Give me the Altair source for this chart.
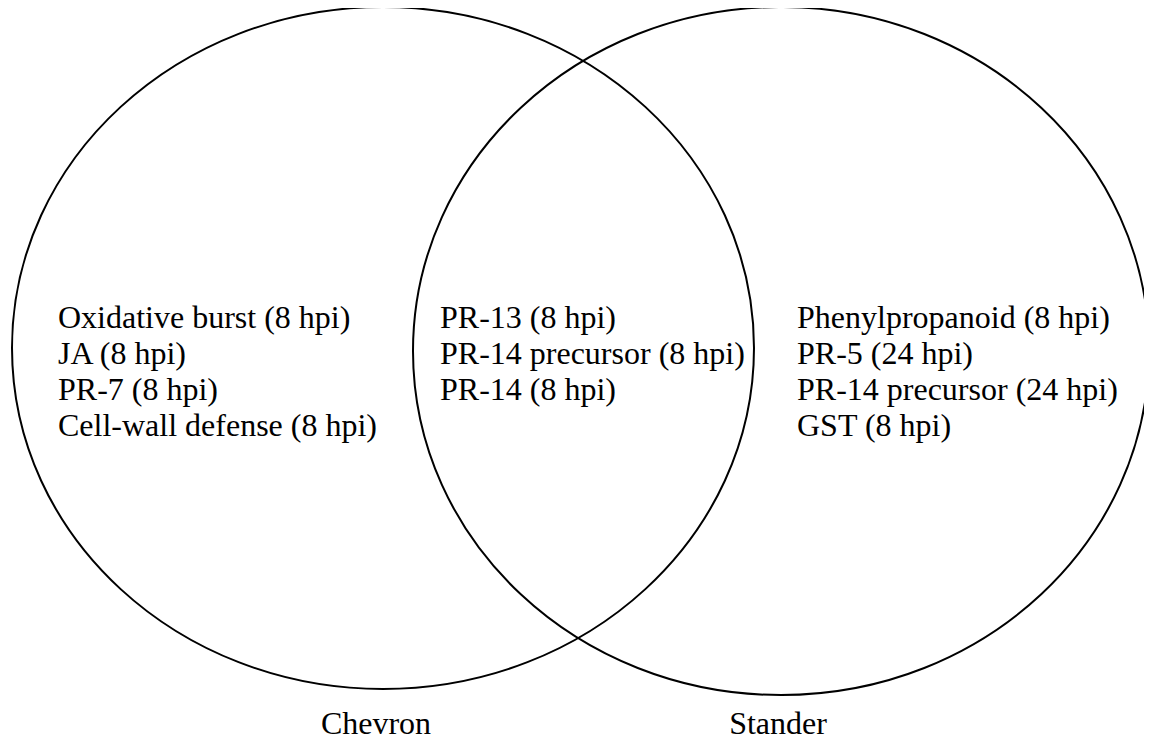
import altair as alt
import pandas as pd

# ---------------- data ----------------
SETS = ["Chevron", "Stander"]
CHEVRON_ONLY = ["Oxidative burst (8 hpi)", "JA (8 hpi)", "PR-7 (8 hpi)",
                "Cell-wall defense (8 hpi)"]
SHARED = ["PR-13 (8 hpi)", "PR-14 precursor (8 hpi)", "PR-14 (8 hpi)"]
STANDER_ONLY = ["Phenylpropanoid (8 hpi)", "PR-5 (24 hpi)",
                "PR-14 precursor (24 hpi)", "GST (8 hpi)"]
REGIONS = ["Chevron only", "Both", "Stander only"]
REGION_ITEMS = [CHEVRON_ONLY, SHARED, STANDER_ONLY]

# ---------------- layout (pixels in the plot area) ----------------
W, H = 1136, 734
ELLIPSE = {  # centre x, centre y, radius x, radius y
    "Chevron": (375, 340, 371, 341),
    "Stander": (773, 343, 368, 344),
}
REGION_X = {"Chevron only": 50, "Both": 432, "Stander only": 789}
LABEL_X = {"Chevron": 368, "Stander": 770}
TEXT_Y0, TEXT_DY = 320, 36
LABEL_Y = 726
FONT = "Times New Roman, Liberation Serif, serif"
FS = 32

xs = alt.Scale(domain=[0, W], range=[0, W])
ys = alt.Scale(domain=[0, H], range=[0, H])


def ellipse_layer(name):
    cx, cy, rx, ry = ELLIPSE[name]
    k = ry / rx
    path = f"M -1 0 A 1 {k:.4f} 0 1 1 1 0 A 1 {k:.4f} 0 1 1 -1 0 Z"
    df = pd.DataFrame({"set": [name], "cx": [cx], "cy": [cy]})
    return alt.Chart(df).mark_point(
        filled=False, stroke="black", strokeWidth=2, opacity=1, shape=path,
        size=(2 * rx) ** 2,
    ).encode(
        x=alt.X("cx:Q", scale=xs, axis=None),
        y=alt.Y("cy:Q", scale=ys, axis=None),
    )


rows = []
for reg, items in zip(REGIONS, REGION_ITEMS):
    for i, t in enumerate(items):
        rows.append({"region": reg, "text": t, "x": REGION_X[reg],
                     "y": TEXT_Y0 + i * TEXT_DY})
items_df = pd.DataFrame(rows)

items_layer = alt.Chart(items_df).mark_text(
    align="left", baseline="alphabetic", font=FONT, fontSize=FS, color="black"
).encode(
    x=alt.X("x:Q", scale=xs, axis=None),
    y=alt.Y("y:Q", scale=ys, axis=None),
    text="text:N",
)

labels_df = pd.DataFrame({"set": SETS,
                          "x": [LABEL_X[s] for s in SETS],
                          "y": [LABEL_Y for _ in SETS]})
labels_layer = alt.Chart(labels_df).mark_text(
    align="center", baseline="alphabetic", font=FONT, fontSize=FS, color="black"
).encode(
    x=alt.X("x:Q", scale=xs, axis=None),
    y=alt.Y("y:Q", scale=ys, axis=None),
    text="set:N",
)

chart = alt.layer(
    ellipse_layer("Chevron"), ellipse_layer("Stander"), items_layer, labels_layer
).properties(
    width=W, height=H, padding=0, autosize=alt.AutoSizeParams(type="none"),
    background="white",
).configure_view(stroke=None)

chart.save("out.html", embed_options={"renderer": "svg", "actions": False})
